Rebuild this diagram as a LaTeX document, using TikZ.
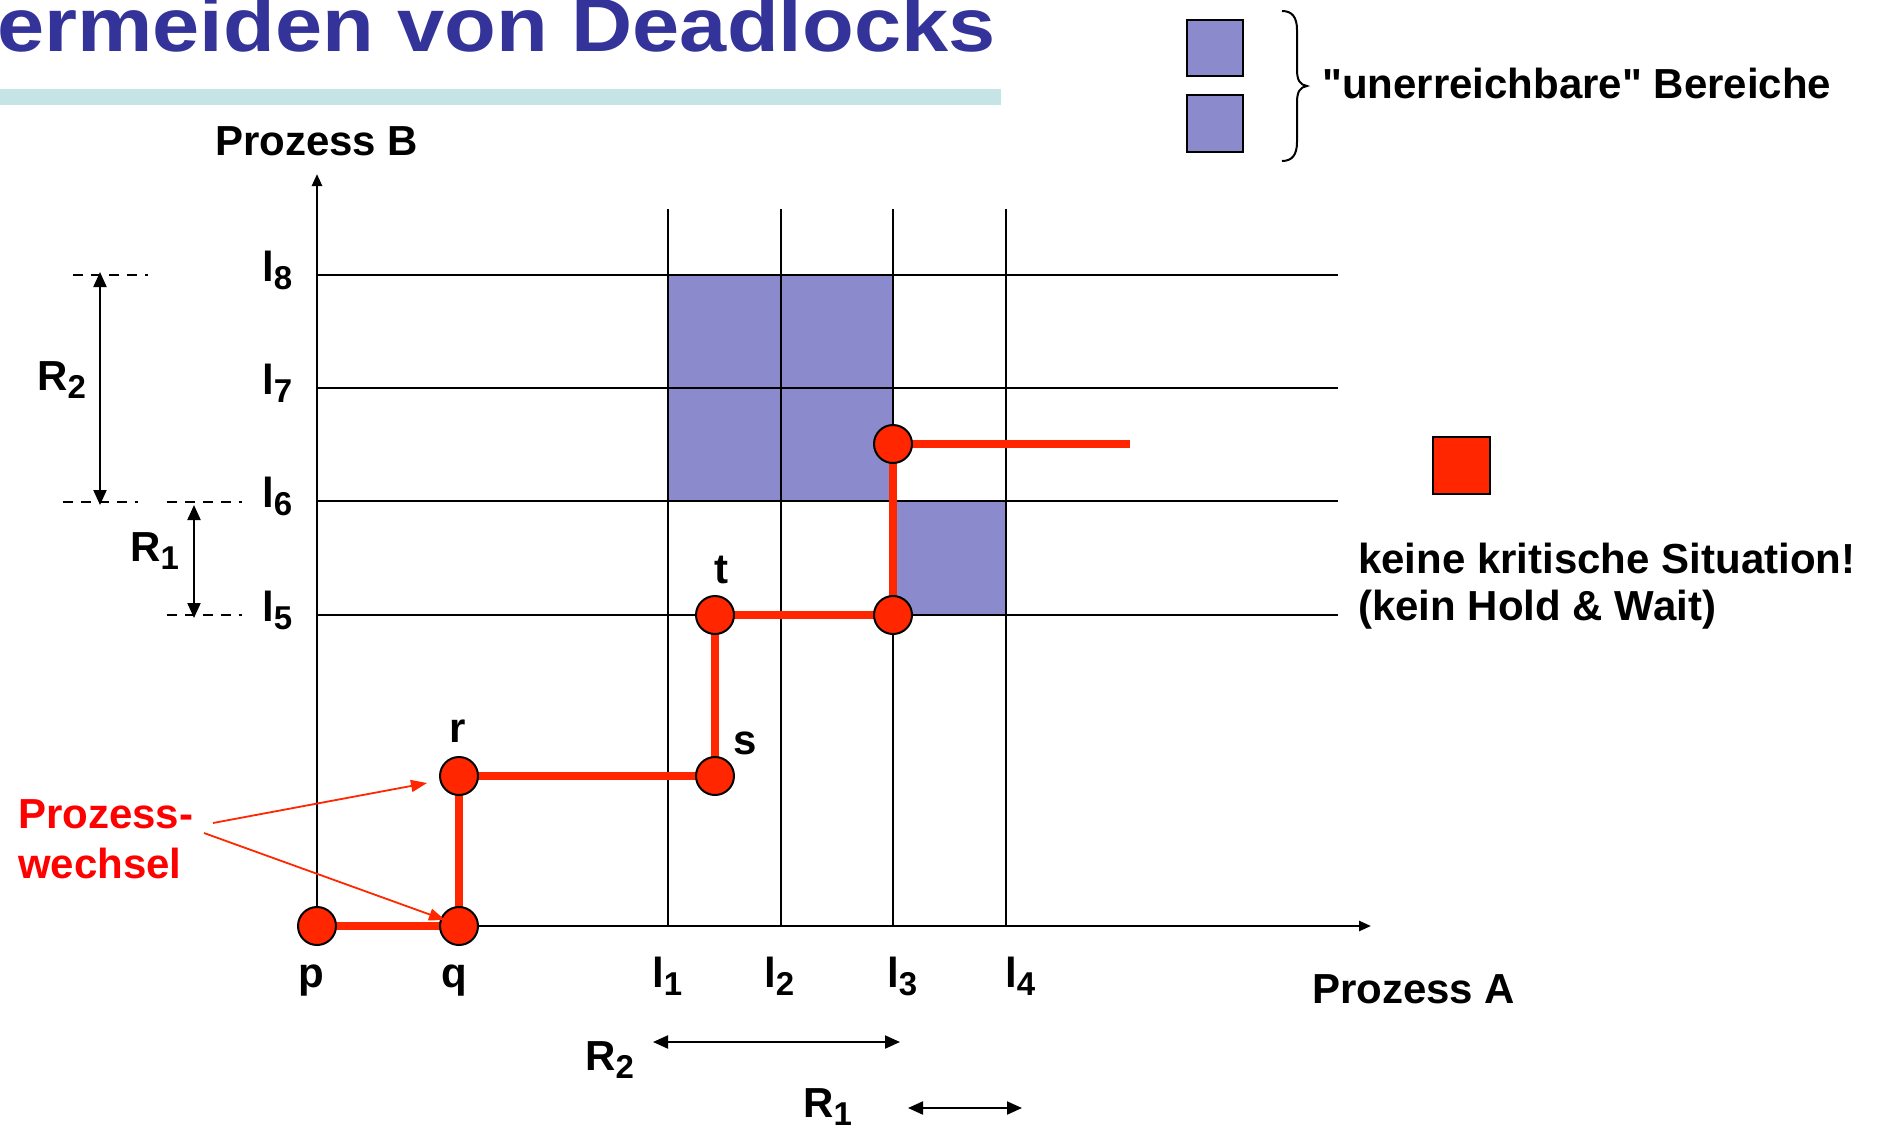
\documentclass[tikz,border=0pt]{standalone}
\usepackage{fontspec}
\setmainfont{Liberation Sans}[Ligatures=TeXOff]
\usetikzlibrary{arrows.meta}
\definecolor{regblue}{RGB}{138,138,204}
\definecolor{pathred}{RGB}{255,38,0}
\definecolor{labred}{RGB}{255,0,0}
\definecolor{titleblue}{RGB}{51,51,153}
\definecolor{barteal}{RGB}{196,228,230}
\newcommand\lbl[2]{#1\raisebox{-8bp}{\fontsize{33bp}{33bp}\selectfont #2}}
\tikzset{
  txt/.style={inner sep=0pt, font=\bfseries\fontsize{42bp}{48bp}\selectfont, anchor=base west},
  ctxt/.style={txt, anchor=base},
  gridline/.style={line width=2bp},
  axis/.style={line width=2.5bp, -{Triangle[length=12bp,width=10bp]}},
  dim/.style={line width=2bp, {Triangle[length=15bp,width=13bp]}-{Triangle[length=15bp,width=13bp]}},
  dimdash/.style={line width=1.5bp, dash pattern=on 10bp off 8bp},
  redpath/.style={pathred, line width=7.5bp},
  dot/.style={circle, draw=black, line width=2bp, fill=pathred, minimum size=38bp, inner sep=0pt},
  redarrow/.style={pathred, line width=1.8bp, -{Triangle[length=16bp,width=12bp]}},
  region/.style={fill=regblue},
  legbox/.style={draw=black, line width=2bp}
}
\begin{document}
\begin{tikzpicture}[x=1bp,y=-1bp]
\useasboundingbox (0,0) rectangle (1883,1139);
% title
\fill[barteal] (0,89) rectangle (1001,105);
\node[txt, text=titleblue, font=\bfseries\fontsize{76bp}{80bp}\selectfont\addfontfeature{FakeStretch=1.115}] (title) at (-3,51) {ermeiden von Deadlocks};
% legend
\filldraw[region, legbox] (1187,20) rectangle (1243,76);
\filldraw[region, legbox] (1187,95) rectangle (1243,152);
\draw[line width=2bp] (1282,11) .. controls (1292,11) and (1297,17) .. (1297,30) -- (1297,70) .. controls (1297,80) and (1300,85) .. (1307,86) .. controls (1300,87) and (1297,92) .. (1297,102) -- (1297,142) .. controls (1297,155) and (1292,161) .. (1282,161);
\node[txt] (unerr) at (1322,98) {"unerreichbare" Bereiche};
\filldraw[fill=pathred, legbox] (1433,437) rectangle (1490,494);
\node[txt] (keine) at (1358,573) {keine kritische Situation!};
\node[txt] (hold) at (1358,620) {(kein Hold \& Wait)};
% regions
\fill[region] (668,275) rectangle (893,501);
\fill[region] (893,501) rectangle (1006,615);
% grid
\foreach \x in {668,781,893,1006} \draw[gridline] (\x,209) -- (\x,926);
\foreach \y in {275,388,501,615} \draw[gridline] (317,\y) -- (1338,\y);
% axes
\coordinate (O) at (317,926);
\coordinate (Ytop) at (317,174);
\coordinate (Xend) at (1371,926);
\draw[axis] (O) -- (Ytop);
\draw[axis] (O) -- (Xend);
\node[txt] (pb) at (215,155) {Prozess B};
\node[txt] (pa) at (1312,1003) {Prozess A};
% axis labels
\node[txt] (l8) at (262,281) {\lbl{l}{8}};
\node[txt] (l7) at (262,394) {\lbl{l}{7}};
\node[txt] (l6) at (262,507) {\lbl{l}{6}};
\node[txt] (l5) at (262,621) {\lbl{l}{5}};
\node[txt] (l1) at (652,987) {\lbl{l}{1}};
\node[txt] (l2) at (764,987) {\lbl{l}{2}};
\node[txt] (l3) at (887,987) {\lbl{l}{3}};
\node[txt] (l4) at (1005,987) {\lbl{l}{4}};
% resource ranges left
\draw[dimdash] (73,275) -- (148,275);
\draw[dimdash] (63,502) -- (138,502);
\draw[dimdash] (167,502) -- (242,502);
\draw[dimdash] (167,615) -- (242,615);
\coordinate (r2a) at (100,272);
\coordinate (r2b) at (100,505);
\coordinate (r1a) at (194,505);
\coordinate (r1b) at (194,618);
\draw[dim] (r2a) -- (r2b);
\draw[dim] (r1a) -- (r1b);
\node[txt] (R2l) at (37,390) {\lbl{R}{2}};
\node[txt] (R1l) at (130,561) {\lbl{R}{1}};
% resource ranges bottom
\coordinate (r2c) at (653,1042);
\coordinate (r2d) at (900,1042);
\coordinate (r1c) at (908,1108);
\coordinate (r1d) at (1022,1108);
\draw[dim] (r2c) -- (r2d);
\draw[dim] (r1c) -- (r1d);
\node[txt] (R2b) at (585,1070) {\lbl{R}{2}};
\node[txt] (R1b) at (803,1117) {\lbl{R}{1}};
% path
\coordinate (p) at (317,926);
\coordinate (q) at (459,926);
\coordinate (r) at (459,776);
\coordinate (s) at (715,776);
\coordinate (t) at (715,615);
\coordinate (u) at (893,615);
\coordinate (v) at (893,444);
\coordinate (w) at (1130,444);
\draw[redpath] (p) -- (q) -- (r) -- (s) -- (t) -- (u) -- (v) -- (w);
\node[dot] (P) at (p) {};
\node[dot] (Q) at (q) {};
\node[dot] (R) at (r) {};
\node[dot] (S) at (s) {};
\node[dot] (T) at (t) {};
\node[dot] (U) at (u) {};
\node[dot] (V) at (v) {};
\node[ctxt] (pl) at (311,987) {p};
\node[ctxt] (ql) at (454,987) {q};
\node[ctxt] (rl) at (458,742) {r};
\node[ctxt] (sl) at (745,754) {s};
\node[ctxt] (tl) at (721,583) {t};
% Prozesswechsel
\node[txt, text=labred] (pw1) at (18,828) {Prozess-};
\node[txt, text=labred] (pw2) at (18,878) {wechsel};
\coordinate (a1s) at (213,823);
\coordinate (a1e) at (427,783);
\coordinate (a2s) at (204,833);
\coordinate (a2e) at (445,920);
\draw[redarrow] (a1s) -- (a1e);
\draw[redarrow] (a2s) -- (a2e);
\end{tikzpicture}
\end{document}
